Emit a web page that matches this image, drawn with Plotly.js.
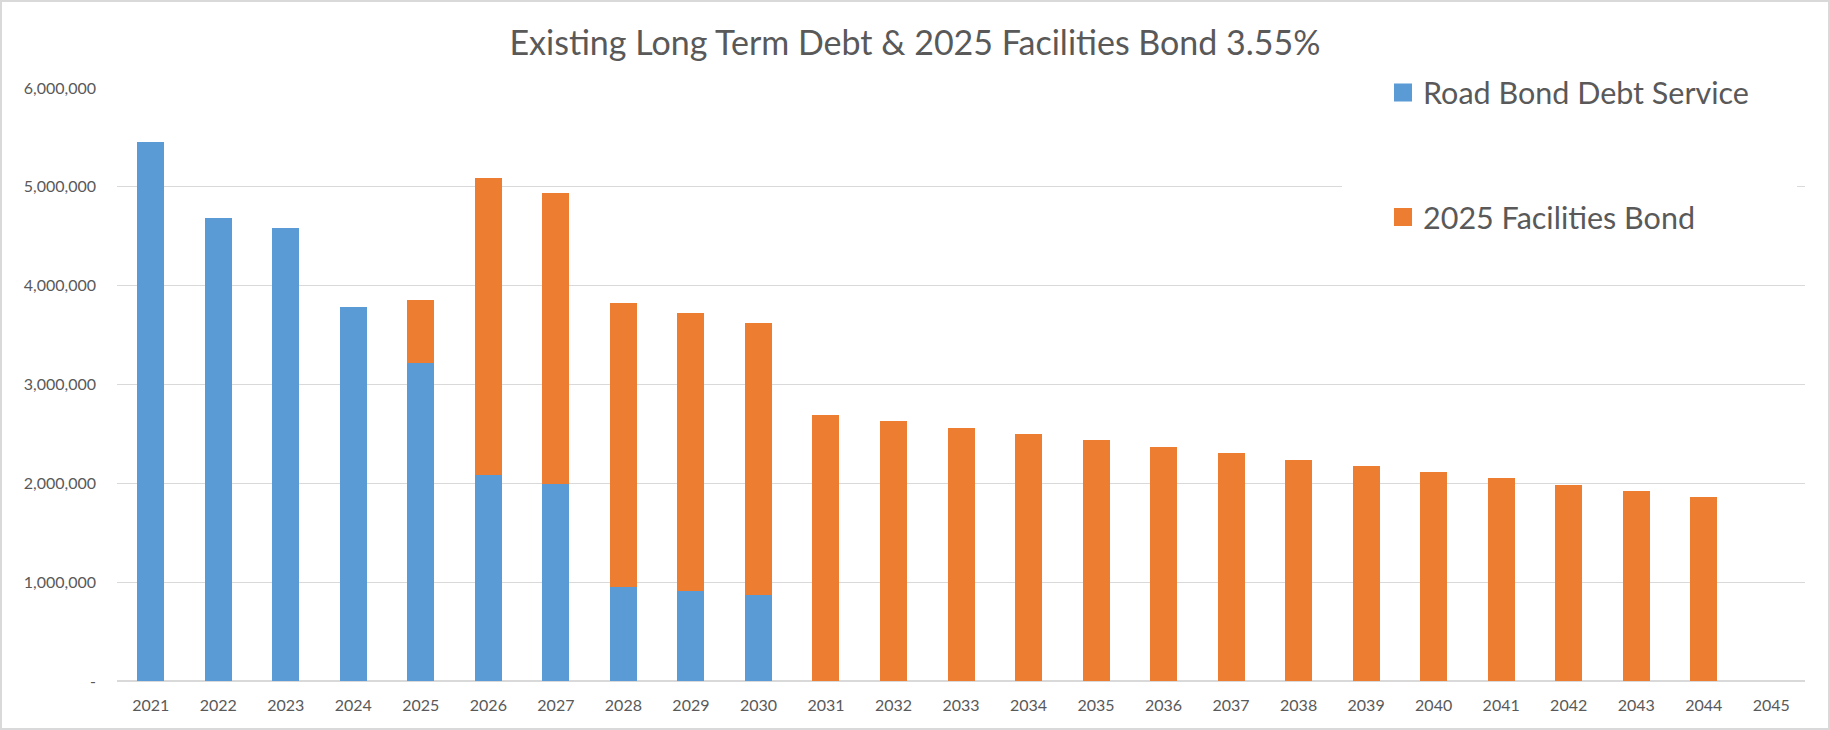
<!DOCTYPE html>
<html>
<head>
<meta charset="utf-8">
<script src="https://cdn.plot.ly/plotly-3.0.1.min.js"></script>
<style>
  html, body { margin: 0; padding: 0; background: #ffffff; }
  #wrap { position: relative; width: 1830px; height: 730px; overflow: hidden; }
  #chart { position: absolute; left: 0; top: 0; width: 1830px; height: 730px; }
  #frame { position: absolute; left: 0; top: 0; width: 1830px; height: 730px; box-sizing: border-box;
           border: 2px solid #d9d9d9; pointer-events: none; }
</style>
</head>
<body>
<div id="wrap"><div id="chart"></div><div id="frame"></div></div>
<script>
// ---- data ----
const years = ['2021','2022','2023','2024','2025','2026','2027','2028','2029','2030','2031','2032','2033',
               '2034','2035','2036','2037','2038','2039','2040','2041','2042','2043','2044','2045'];
const roadBondDebtService = [5453000, 4686000, 4582000, 3784000, 3222000, 2084000, 1991000, 949000, 910000, 868000,
                             0, 0, 0, 0, 0, 0, 0, 0, 0, 0, 0, 0, 0, 0, 0];
const facilitiesBond2025 = [0, 0, 0, 0, 632000, 3005000, 2947000, 2874000, 2812000, 2753000,
                            2692000, 2630000, 2560000, 2498000, 2436000, 2370000, 2310000, 2239000, 2178000,
                            2118000, 2057000, 1987000, 1926000, 1865000, 0];
const seriesNames = ['Road Bond Debt Service', '2025 Facilities Bond'];
const yTickVals = [0, 1000000, 2000000, 3000000, 4000000, 5000000, 6000000];
const yTickText = ['-', '1,000,000', '2,000,000', '3,000,000', '4,000,000', '5,000,000', '6,000,000'];
const chartTitle = 'Existing Long Term Debt &amp; 2025 Facilities Bond 3.55%';

const FONT = 'Lato, "Open Sans", sans-serif';
const TXT = '#595959';

const traces = [
  { type: 'bar', name: seriesNames[0], x: years, y: roadBondDebtService,
    marker: { color: '#5B9BD5', line: { width: 0 } }, legend: 'legend', hoverinfo: 'x+y+name' },
  { type: 'bar', name: seriesNames[1], x: years, y: facilitiesBond2025,
    marker: { color: '#ED7D31', line: { width: 0 } }, legend: 'legend2', hoverinfo: 'x+y+name' }
];

const layout = {
  width: 1830, height: 730,
  paper_bgcolor: '#ffffff', plot_bgcolor: '#ffffff',
  margin: { l: 117, r: 25, t: 88, b: 49, pad: 0 },
  barmode: 'stack', bargap: 0.6,
  font: { family: FONT, color: TXT },
  title: { text: chartTitle, x: 0.5, xref: 'container', xanchor: 'center',
           y: 0.941, yref: 'container', yanchor: 'middle',
           font: { family: FONT, size: 34, color: TXT } },
  xaxis: { type: 'category', showgrid: false, zeroline: false,
           showline: false, ticks: '', tickfont: { family: FONT, size: 16, color: TXT },
           ticklabelstandoff: 13, fixedrange: true },
  yaxis: { range: [0, 6000000], tickvals: yTickVals, ticktext: yTickText,
           showgrid: true, gridcolor: '#d9d9d9', gridwidth: 1,
           zeroline: true, zerolinecolor: '#d9d9d9', zerolinewidth: 1.5,
           showline: false, ticks: '', tickfont: { family: FONT, size: 16, color: TXT },
           ticklabelstandoff: 20, fixedrange: true },
  showlegend: true,
  legend: { x: 0.75, xanchor: 'left', y: 0.992, yanchor: 'middle', bgcolor: 'rgba(0,0,0,0)',
            borderwidth: 0, font: { family: FONT, size: 30.5, color: TXT } },
  legend2: { x: 0.75, xanchor: 'left', y: 0.782, yanchor: 'middle', bgcolor: 'rgba(0,0,0,0)',
             borderwidth: 0, font: { family: FONT, size: 30.5, color: TXT } },
  shapes: [
    { type: 'rect', xref: 'paper', yref: 'paper', x0: 0.7257, x1: 0.9953, y0: 0.72, y1: 1.05,
      fillcolor: '#ffffff', line: { width: 0 }, layer: 'above' }
  ]
};

Plotly.newPlot('chart', traces, layout, { displayModeBar: false, staticPlot: true }).then(function (gd) {
  // enlarge legend swatches to match the reference's bigger squares
  gd.querySelectorAll('.legendpoints path').forEach(function (p) {
    const t = p.getAttribute('transform') || '';
    p.setAttribute('transform', t + ' scale(1.5)');
  });
});
</script>
</body>
</html>
